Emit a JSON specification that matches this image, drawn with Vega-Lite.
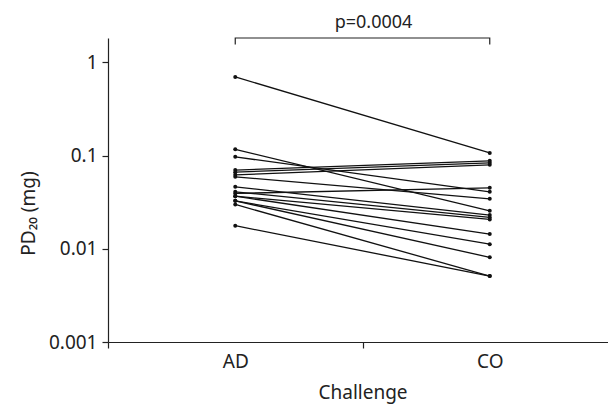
{
  "$schema": "https://vega.github.io/schema/vega-lite/v6.json",
  "autosize": "none",
  "padding": {"left": 108, "top": 38, "right": -9, "bottom": 62},
  "width": 509,
  "height": 304,
  "background": "white",
  "title": {"text": "p=0.0004", "fontSize": 18, "font": "Noto Sans", "fontWeight": "normal", "color": "#222", "anchor": "middle", "dx": 11, "offset": 4},
  "config": {
    "view": {"stroke": null},
    "axis": {"grid": false, "domainColor": "#222", "tickColor": "#222", "labelColor": "#222", "titleColor": "#222", "labelFont": "Noto Sans", "titleFont": "Noto Sans", "labelFontSize": 19, "titleFontSize": 19, "titleFontWeight": "normal", "tickSize": 6, "domainWidth": 1.2, "tickWidth": 1.2}
  },
  "datasets": {
    "pd": [
      {"id": 1, "Challenge": "AD", "PD20": 0.70}, {"id": 1, "Challenge": "CO", "PD20": 0.107},
      {"id": 2, "Challenge": "AD", "PD20": 0.117}, {"id": 2, "Challenge": "CO", "PD20": 0.0256},
      {"id": 3, "Challenge": "AD", "PD20": 0.097}, {"id": 3, "Challenge": "CO", "PD20": 0.0409},
      {"id": 4, "Challenge": "AD", "PD20": 0.070}, {"id": 4, "Challenge": "CO", "PD20": 0.088},
      {"id": 5, "Challenge": "AD", "PD20": 0.0665}, {"id": 5, "Challenge": "CO", "PD20": 0.0837},
      {"id": 6, "Challenge": "AD", "PD20": 0.0622}, {"id": 6, "Challenge": "CO", "PD20": 0.0797},
      {"id": 7, "Challenge": "AD", "PD20": 0.0593}, {"id": 7, "Challenge": "CO", "PD20": 0.0344},
      {"id": 8, "Challenge": "AD", "PD20": 0.0463}, {"id": 8, "Challenge": "CO", "PD20": 0.0230},
      {"id": 9, "Challenge": "AD", "PD20": 0.0409}, {"id": 9, "Challenge": "CO", "PD20": 0.0217},
      {"id": 10, "Challenge": "AD", "PD20": 0.0393}, {"id": 10, "Challenge": "CO", "PD20": 0.0451},
      {"id": 11, "Challenge": "AD", "PD20": 0.0367}, {"id": 11, "Challenge": "CO", "PD20": 0.0207},
      {"id": 12, "Challenge": "AD", "PD20": 0.0367}, {"id": 12, "Challenge": "CO", "PD20": 0.0144},
      {"id": 13, "Challenge": "AD", "PD20": 0.0327}, {"id": 13, "Challenge": "CO", "PD20": 0.0112},
      {"id": 14, "Challenge": "AD", "PD20": 0.0327}, {"id": 14, "Challenge": "CO", "PD20": 0.0081},
      {"id": 15, "Challenge": "AD", "PD20": 0.0299}, {"id": 15, "Challenge": "CO", "PD20": 0.0051},
      {"id": 16, "Challenge": "AD", "PD20": 0.0177}, {"id": 16, "Challenge": "CO", "PD20": 0.0051}
    ],
    "bracket": [
      {"k": 1, "Challenge": "AD", "PD20": 1.56},
      {"k": 2, "Challenge": "AD", "PD20": 1.83},
      {"k": 3, "Challenge": "CO", "PD20": 1.83},
      {"k": 4, "Challenge": "CO", "PD20": 1.56}
    ]
  },
  "encoding": {
    "x": {"field": "Challenge", "type": "nominal", "scale": {"type": "band", "domain": ["AD", "CO"], "paddingInner": 0, "paddingOuter": 0},
      "axis": {"title": "Challenge", "labelAngle": 0, "tickBand": "extent", "labelPadding": 4, "titlePadding": 12}},
    "y": {"field": "PD20", "type": "quantitative", "scale": {"type": "log", "domain": [0.001, 1.83], "nice": false},
      "axis": {"title": "PD₂₀ (mg)", "values": [0.001, 0.01, 0.1, 1], "format": "~g", "labelPadding": 5, "titlePadding": 10, "titleY": 175}}
  },
  "layer": [
    {"data": {"name": "pd"}, "mark": {"type": "line", "color": "#111", "strokeWidth": 1.3}, "encoding": {"detail": {"field": "id"}}},
    {"data": {"name": "pd"}, "mark": {"type": "point", "filled": true, "color": "#111", "size": 16, "opacity": 1}},
    {"data": {"name": "bracket"}, "mark": {"type": "line", "color": "#222", "strokeWidth": 1.2}, "encoding": {"order": {"field": "k"}}}
  ]
}
